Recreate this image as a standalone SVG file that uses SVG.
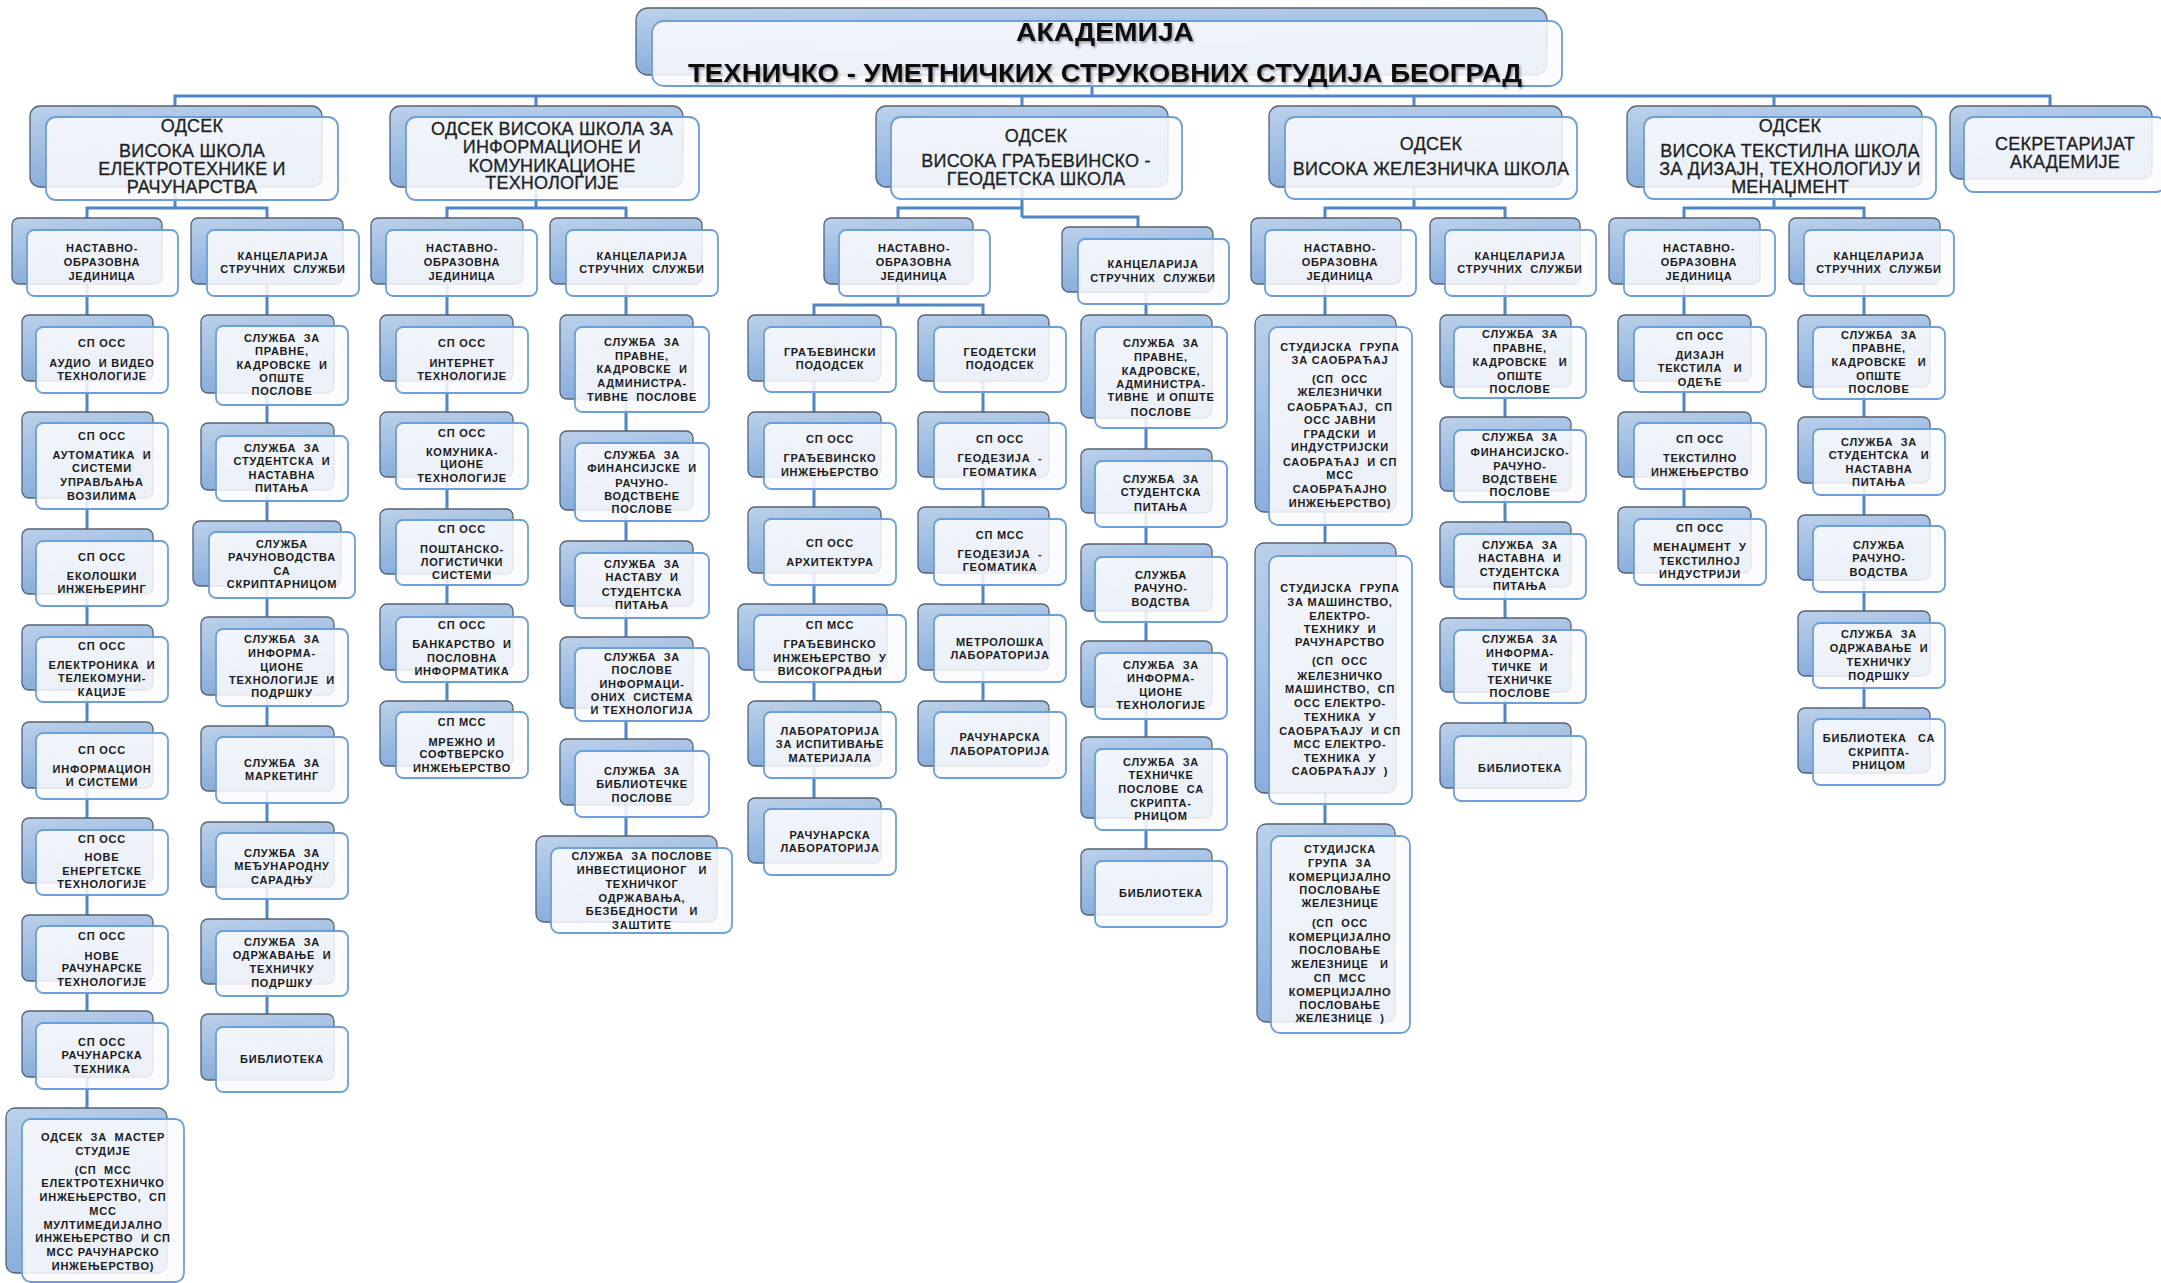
<svg xmlns="http://www.w3.org/2000/svg" width="2161" height="1283" viewBox="0 0 2161 1283">
<defs>
<linearGradient id="gb" x1="0" y1="0" x2="0.3" y2="1">
<stop offset="0" stop-color="#bcd1ea"/>
<stop offset="1" stop-color="#87abdb"/>
</linearGradient>
<filter id="sh" x="-5%" y="-30%" width="110%" height="160%">
<feDropShadow dx="1.5" dy="2" stdDeviation="1.2" flood-color="#000" flood-opacity="0.35"/>
</filter>
</defs>
<style>
.b{fill:url(#gb);stroke:#55626f;stroke-width:1.3}
.f{fill:#fbfcfe;fill-opacity:0.86;stroke:#6a9fd9;stroke-width:1.8}
.c{fill:none;stroke:#4f86c6;stroke-width:3}
.t{font-family:"Liberation Sans",Arial,sans-serif;font-size:11px;font-weight:bold;letter-spacing:0.75px;fill:#1b1b1b;text-anchor:middle;white-space:pre}
.h{font-family:"Liberation Sans",Arial,sans-serif;font-size:18px;letter-spacing:0.2px;fill:#1f1f1f;stroke:#1f1f1f;stroke-width:0.3;text-anchor:middle;white-space:pre}
.ti{font-family:"Liberation Sans",Arial,sans-serif;font-weight:bold;fill:#111;text-anchor:middle}
</style>
<rect width="2161" height="1283" fill="#ffffff"/>
<g id="connectors">
<path class="c" d="M1092,75 V96 M175,106 V96 H2050 V106 M536,96 V106 M1022,96 V106 M1414,96 V106 M1774,96 V106"/>
<path class="c" d="M175,187 V208 M87,218 V208 H267 V218"/>
<path class="c" d="M536,187 V208 M447,218 V208 H626 V218"/>
<path class="c" d="M1022,187 V217 M898,218 V208 H1022 M1022,217 H1138 V227"/>
<path class="c" d="M1414,187 V208 M1325,218 V208 H1505 V218"/>
<path class="c" d="M1774,187 V208 M1684,218 V208 H1864 V218"/>
<path class="c" d="M87,284 V1108 M267,284 V1014 M447,284 V701 M626,284 V836"/>
<path class="c" d="M898,284 V305 M814,315 V305 H983 V315 M814,381 V798 M983,381 V701 M1146,292 V849"/>
<path class="c" d="M1325,284 V824 M1505,284 V723 M1684,284 V507 M1864,284 V708"/>
</g>
<g id="n-akademija">
<rect class="b" x="636" y="8" width="911" height="67" rx="12"/>
<rect class="f" x="652" y="21" width="910" height="65" rx="12"/>
<text class="ti" x="1105" y="41" font-size="25" textLength="178" lengthAdjust="spacingAndGlyphs" filter="url(#sh)">АКАДЕМИЈА</text>
<text class="ti" x="1105" y="82" font-size="26" textLength="834" lengthAdjust="spacingAndGlyphs" filter="url(#sh)">ТЕХНИЧКО - УМЕТНИЧКИХ СТРУКОВНИХ СТУДИЈА БЕОГРАД</text>
</g>
<g id="n-d1">
<rect class="b" x="30" y="106" width="292" height="81" rx="10"/>
<rect class="f" x="46" y="117" width="292" height="83" rx="10"/>
<text class="h"><tspan x="192" y="132">ОДСЕК</tspan><tspan x="192" y="157">ВИСОКА ШКОЛА</tspan><tspan x="192" y="175">ЕЛЕКТРОТЕХНИКЕ И</tspan><tspan x="192" y="193">РАЧУНАРСТВА</tspan></text>
</g>
<g id="n-d2">
<rect class="b" x="390" y="106" width="293" height="81" rx="10"/>
<rect class="f" x="406" y="117" width="293" height="83" rx="10"/>
<text class="h"><tspan x="552" y="135">ОДСЕК ВИСОКА ШКОЛА ЗА</tspan><tspan x="552" y="153">ИНФОРМАЦИОНЕ И</tspan><tspan x="552" y="172">КОМУНИКАЦИОНЕ</tspan><tspan x="552" y="189">ТЕХНОЛОГИЈЕ</tspan></text>
</g>
<g id="n-d3">
<rect class="b" x="876" y="106" width="292" height="81" rx="10"/>
<rect class="f" x="891" y="117" width="291" height="82" rx="10"/>
<text class="h"><tspan x="1036" y="142">ОДСЕК</tspan><tspan x="1036" y="167">ВИСОКА ГРАЂЕВИНСКО -</tspan><tspan x="1036" y="185">ГЕОДЕТСКА ШКОЛА</tspan></text>
</g>
<g id="n-d4">
<rect class="b" x="1269" y="106" width="293" height="81" rx="10"/>
<rect class="f" x="1285" y="117" width="292" height="82" rx="10"/>
<text class="h"><tspan x="1431" y="150">ОДСЕК</tspan><tspan x="1431" y="175">ВИСОКА ЖЕЛЕЗНИЧКА ШКОЛА</tspan></text>
</g>
<g id="n-d5">
<rect class="b" x="1627" y="106" width="295" height="81" rx="10"/>
<rect class="f" x="1644" y="117" width="292" height="82" rx="10"/>
<text class="h"><tspan x="1790" y="132">ОДСЕК</tspan><tspan x="1790" y="157">ВИСОКА ТЕКСТИЛНА ШКОЛА</tspan><tspan x="1790" y="175">ЗА ДИЗАЈН, ТЕХНОЛОГИЈУ И</tspan><tspan x="1790" y="193">МЕНАЏМЕНТ</tspan></text>
</g>
<g id="n-d6">
<rect class="b" x="1950" y="106" width="202" height="73" rx="10"/>
<rect class="f" x="1964" y="117" width="202" height="75" rx="10"/>
<text class="h"><tspan x="2065" y="150">СЕКРЕТАРИЈАТ</tspan><tspan x="2065" y="168">АКАДЕМИЈЕ</tspan></text>
</g>

<g id="n-d1-nastavno">
<rect class="b" x="12" y="218" width="150" height="66" rx="7"/>
<rect class="f" x="27" y="230" width="151" height="66" rx="7"/>
<text class="t"><tspan x="102" y="252">НАСТАВНО-</tspan><tspan x="102" y="266">ОБРАЗОВНА</tspan><tspan x="102" y="280">ЈЕДИНИЦА</tspan></text>
</g>
<g id="n-d1-kanc">
<rect class="b" x="191" y="218" width="152" height="66" rx="7"/>
<rect class="f" x="207" y="230" width="152" height="66" rx="7"/>
<text class="t"><tspan x="283" y="260">КАНЦЕЛАРИЈА</tspan><tspan x="283" y="273">СТРУЧНИХ  СЛУЖБИ</tspan></text>
</g>
<g id="n-d2-nastavno">
<rect class="b" x="371" y="218" width="152" height="66" rx="7"/>
<rect class="f" x="386" y="230" width="151" height="66" rx="7"/>
<text class="t"><tspan x="462" y="252">НАСТАВНО-</tspan><tspan x="462" y="266">ОБРАЗОВНА</tspan><tspan x="462" y="280">ЈЕДИНИЦА</tspan></text>
</g>
<g id="n-d2-kanc">
<rect class="b" x="550" y="218" width="152" height="66" rx="7"/>
<rect class="f" x="566" y="230" width="152" height="66" rx="7"/>
<text class="t"><tspan x="642" y="260">КАНЦЕЛАРИЈА</tspan><tspan x="642" y="273">СТРУЧНИХ  СЛУЖБИ</tspan></text>
</g>
<g id="n-d3-nastavno">
<rect class="b" x="824" y="218" width="149" height="66" rx="7"/>
<rect class="f" x="839" y="230" width="151" height="66" rx="7"/>
<text class="t"><tspan x="914" y="252">НАСТАВНО-</tspan><tspan x="914" y="266">ОБРАЗОВНА</tspan><tspan x="914" y="280">ЈЕДИНИЦА</tspan></text>
</g>
<g id="n-d3-kanc">
<rect class="b" x="1062" y="227" width="151" height="65" rx="7"/>
<rect class="f" x="1078" y="239" width="151" height="65" rx="7"/>
<text class="t"><tspan x="1153" y="268">КАНЦЕЛАРИЈА</tspan><tspan x="1153" y="282">СТРУЧНИХ  СЛУЖБИ</tspan></text>
</g>
<g id="n-d4-nastavno">
<rect class="b" x="1251" y="218" width="150" height="66" rx="7"/>
<rect class="f" x="1265" y="230" width="151" height="66" rx="7"/>
<text class="t"><tspan x="1340" y="252">НАСТАВНО-</tspan><tspan x="1340" y="266">ОБРАЗОВНА</tspan><tspan x="1340" y="280">ЈЕДИНИЦА</tspan></text>
</g>
<g id="n-d4-kanc">
<rect class="b" x="1430" y="218" width="150" height="66" rx="7"/>
<rect class="f" x="1445" y="230" width="151" height="66" rx="7"/>
<text class="t"><tspan x="1520" y="260">КАНЦЕЛАРИЈА</tspan><tspan x="1520" y="273">СТРУЧНИХ  СЛУЖБИ</tspan></text>
</g>
<g id="n-d5-nastavno">
<rect class="b" x="1609" y="218" width="151" height="66" rx="7"/>
<rect class="f" x="1624" y="230" width="151" height="66" rx="7"/>
<text class="t"><tspan x="1699" y="252">НАСТАВНО-</tspan><tspan x="1699" y="266">ОБРАЗОВНА</tspan><tspan x="1699" y="280">ЈЕДИНИЦА</tspan></text>
</g>
<g id="n-d5-kanc">
<rect class="b" x="1789" y="218" width="151" height="66" rx="7"/>
<rect class="f" x="1804" y="230" width="150" height="66" rx="7"/>
<text class="t"><tspan x="1879" y="260">КАНЦЕЛАРИЈА</tspan><tspan x="1879" y="273">СТРУЧНИХ  СЛУЖБИ</tspan></text>
</g>

<!-- Column 1 -->
<g id="n-c1-1"><rect class="b" x="22" y="315" width="131" height="66" rx="7"/><rect class="f" x="36" y="327" width="132" height="66" rx="7"/>
<text class="t"><tspan x="102" y="347">СП ОСС</tspan><tspan x="102" y="367">АУДИО  И ВИДЕО</tspan><tspan x="102" y="380">ТЕХНОЛОГИЈЕ</tspan></text></g>
<g id="n-c1-2"><rect class="b" x="22" y="412" width="131" height="86" rx="7"/><rect class="f" x="36" y="423" width="132" height="86" rx="7"/>
<text class="t"><tspan x="102" y="440">СП ОСС</tspan><tspan x="102" y="459">АУТОМАТИКА  И</tspan><tspan x="102" y="472">СИСТЕМИ</tspan><tspan x="102" y="486">УПРАВЉАЊА</tspan><tspan x="102" y="500">ВОЗИЛИМА</tspan></text></g>
<g id="n-c1-3"><rect class="b" x="22" y="529" width="131" height="65" rx="7"/><rect class="f" x="36" y="541" width="132" height="65" rx="7"/>
<text class="t"><tspan x="102" y="561">СП ОСС</tspan><tspan x="102" y="580">ЕКОЛОШКИ</tspan><tspan x="102" y="593">ИНЖЕЊЕРИНГ</tspan></text></g>
<g id="n-c1-4"><rect class="b" x="22" y="625" width="131" height="65" rx="7"/><rect class="f" x="36" y="637" width="132" height="65" rx="7"/>
<text class="t"><tspan x="102" y="650">СП ОСС</tspan><tspan x="102" y="669">ЕЛЕКТРОНИКА  И</tspan><tspan x="102" y="682">ТЕЛЕКОМУНИ-</tspan><tspan x="102" y="696">КАЦИЈЕ</tspan></text></g>
<g id="n-c1-5"><rect class="b" x="22" y="722" width="131" height="66" rx="7"/><rect class="f" x="36" y="733" width="132" height="66" rx="7"/>
<text class="t"><tspan x="102" y="754">СП ОСС</tspan><tspan x="102" y="773">ИНФОРМАЦИОН</tspan><tspan x="102" y="786">И СИСТЕМИ</tspan></text></g>
<g id="n-c1-6"><rect class="b" x="22" y="818" width="131" height="65" rx="7"/><rect class="f" x="36" y="830" width="132" height="65" rx="7"/>
<text class="t"><tspan x="102" y="843">СП ОСС</tspan><tspan x="102" y="861">НОВЕ</tspan><tspan x="102" y="875">ЕНЕРГЕТСКЕ</tspan><tspan x="102" y="888">ТЕХНОЛОГИЈЕ</tspan></text></g>
<g id="n-c1-7"><rect class="b" x="22" y="915" width="131" height="66" rx="7"/><rect class="f" x="36" y="926" width="132" height="67" rx="7"/>
<text class="t"><tspan x="102" y="940">СП ОСС</tspan><tspan x="102" y="960">НОВЕ</tspan><tspan x="102" y="972">РАЧУНАРСКЕ</tspan><tspan x="102" y="986">ТЕХНОЛОГИЈЕ</tspan></text></g>
<g id="n-c1-8"><rect class="b" x="22" y="1011" width="131" height="66" rx="7"/><rect class="f" x="36" y="1023" width="132" height="66" rx="7"/>
<text class="t"><tspan x="102" y="1046">СП ОСС</tspan><tspan x="102" y="1059">РАЧУНАРСКА</tspan><tspan x="102" y="1073">ТЕХНИКА</tspan></text></g>
<g id="n-c1-9"><rect class="b" x="6" y="1108" width="161" height="165" rx="9"/><rect class="f" x="22" y="1119" width="162" height="163" rx="9"/>
<text class="t"><tspan x="103" y="1141">ОДСЕК  ЗА  МАСТЕР</tspan><tspan x="103" y="1155">СТУДИЈЕ</tspan><tspan x="103" y="1174">(СП  МСС</tspan><tspan x="103" y="1187">ЕЛЕКТРОТЕХНИЧКО</tspan><tspan x="103" y="1201">ИНЖЕЊЕРСТВО,  СП</tspan><tspan x="103" y="1215">МСС</tspan><tspan x="103" y="1229">МУЛТИМЕДИЈАЛНО</tspan><tspan x="103" y="1242">ИНЖЕЊЕРСТВО  И СП</tspan><tspan x="103" y="1256">МСС РАЧУНАРСКО</tspan><tspan x="103" y="1270">ИНЖЕЊЕРСТВО)</tspan></text></g>

<!-- Column 2 -->
<g id="n-c2-1"><rect class="b" x="201" y="315" width="133" height="78" rx="7"/><rect class="f" x="216" y="326" width="132" height="79" rx="7"/>
<text class="t"><tspan x="282" y="342">СЛУЖБА  ЗА</tspan><tspan x="282" y="355">ПРАВНЕ,</tspan><tspan x="282" y="369">КАДРОВСКЕ  И</tspan><tspan x="282" y="382">ОПШТЕ</tspan><tspan x="282" y="395">ПОСЛОВЕ</tspan></text></g>
<g id="n-c2-2"><rect class="b" x="201" y="423" width="133" height="67" rx="7"/><rect class="f" x="216" y="436" width="132" height="65" rx="7"/>
<text class="t"><tspan x="282" y="452">СЛУЖБА  ЗА</tspan><tspan x="282" y="465">СТУДЕНТСКА  И</tspan><tspan x="282" y="479">НАСТАВНА</tspan><tspan x="282" y="492">ПИТАЊА</tspan></text></g>
<g id="n-c2-3"><rect class="b" x="193" y="521" width="148" height="65" rx="7"/><rect class="f" x="209" y="532" width="146" height="66" rx="7"/>
<text class="t"><tspan x="282" y="548">СЛУЖБА</tspan><tspan x="282" y="561">РАЧУНОВОДСТВА</tspan><tspan x="282" y="575">СА</tspan><tspan x="282" y="588">СКРИПТАРНИЦОМ</tspan></text></g>
<g id="n-c2-4"><rect class="b" x="201" y="617" width="133" height="78" rx="7"/><rect class="f" x="216" y="629" width="132" height="77" rx="7"/>
<text class="t"><tspan x="282" y="643">СЛУЖБА  ЗА</tspan><tspan x="282" y="657">ИНФОРМА-</tspan><tspan x="282" y="671">ЦИОНЕ</tspan><tspan x="282" y="684">ТЕХНОЛОГИЈЕ  И</tspan><tspan x="282" y="697">ПОДРШКУ</tspan></text></g>
<g id="n-c2-5"><rect class="b" x="201" y="726" width="133" height="65" rx="7"/><rect class="f" x="216" y="737" width="132" height="66" rx="7"/>
<text class="t"><tspan x="282" y="767">СЛУЖБА  ЗА</tspan><tspan x="282" y="780">МАРКЕТИНГ</tspan></text></g>
<g id="n-c2-6"><rect class="b" x="201" y="822" width="133" height="65" rx="7"/><rect class="f" x="216" y="833" width="132" height="66" rx="7"/>
<text class="t"><tspan x="282" y="857">СЛУЖБА  ЗА</tspan><tspan x="282" y="870">МЕЂУНАРОДНУ</tspan><tspan x="282" y="884">САРАДЊУ</tspan></text></g>
<g id="n-c2-7"><rect class="b" x="201" y="919" width="133" height="65" rx="7"/><rect class="f" x="216" y="931" width="132" height="65" rx="7"/>
<text class="t"><tspan x="282" y="946">СЛУЖБА  ЗА</tspan><tspan x="282" y="959">ОДРЖАВАЊЕ  И</tspan><tspan x="282" y="973">ТЕХНИЧКУ</tspan><tspan x="282" y="987">ПОДРШКУ</tspan></text></g>
<g id="n-c2-8"><rect class="b" x="201" y="1014" width="133" height="66" rx="7"/><rect class="f" x="216" y="1027" width="132" height="65" rx="7"/>
<text class="t"><tspan x="282" y="1063">БИБЛИОТЕКА</tspan></text></g>

<!-- Column 3 -->
<g id="n-c3-1"><rect class="b" x="380" y="315" width="133" height="66" rx="7"/><rect class="f" x="396" y="327" width="132" height="66" rx="7"/>
<text class="t"><tspan x="462" y="347">СП ОСС</tspan><tspan x="462" y="367">ИНТЕРНЕТ</tspan><tspan x="462" y="380">ТЕХНОЛОГИЈЕ</tspan></text></g>
<g id="n-c3-2"><rect class="b" x="380" y="412" width="133" height="65" rx="7"/><rect class="f" x="396" y="423" width="132" height="66" rx="7"/>
<text class="t"><tspan x="462" y="437">СП ОСС</tspan><tspan x="462" y="456">КОМУНИКА-</tspan><tspan x="462" y="468">ЦИОНЕ</tspan><tspan x="462" y="482">ТЕХНОЛОГИЈЕ</tspan></text></g>
<g id="n-c3-3"><rect class="b" x="380" y="509" width="133" height="65" rx="7"/><rect class="f" x="396" y="520" width="132" height="65" rx="7"/>
<text class="t"><tspan x="462" y="533">СП ОСС</tspan><tspan x="462" y="553">ПОШТАНСКО-</tspan><tspan x="462" y="566">ЛОГИСТИЧКИ</tspan><tspan x="462" y="579">СИСТЕМИ</tspan></text></g>
<g id="n-c3-4"><rect class="b" x="380" y="604" width="133" height="66" rx="7"/><rect class="f" x="396" y="617" width="132" height="65" rx="7"/>
<text class="t"><tspan x="462" y="629">СП ОСС</tspan><tspan x="462" y="648">БАНКАРСТВО  И</tspan><tspan x="462" y="662">ПОСЛОВНА</tspan><tspan x="462" y="675">ИНФОРМАТИКА</tspan></text></g>
<g id="n-c3-5"><rect class="b" x="380" y="701" width="133" height="65" rx="7"/><rect class="f" x="396" y="712" width="132" height="66" rx="7"/>
<text class="t"><tspan x="462" y="726">СП МСС</tspan><tspan x="462" y="746">МРЕЖНО И</tspan><tspan x="462" y="758">СОФТВЕРСКО</tspan><tspan x="462" y="772">ИНЖЕЊЕРСТВО</tspan></text></g>

<!-- Column 4 -->
<g id="n-c4-1"><rect class="b" x="560" y="315" width="133" height="84" rx="7"/><rect class="f" x="575" y="327" width="134" height="85" rx="7"/>
<text class="t"><tspan x="642" y="346">СЛУЖБА  ЗА</tspan><tspan x="642" y="360">ПРАВНЕ,</tspan><tspan x="642" y="373">КАДРОВСКЕ  И</tspan><tspan x="642" y="387">АДМИНИСТРА-</tspan><tspan x="642" y="401">ТИВНЕ  ПОСЛОВЕ</tspan></text></g>
<g id="n-c4-2"><rect class="b" x="560" y="431" width="133" height="79" rx="7"/><rect class="f" x="575" y="443" width="134" height="78" rx="7"/>
<text class="t"><tspan x="642" y="459">СЛУЖБА  ЗА</tspan><tspan x="642" y="472">ФИНАНСИЈСКЕ  И</tspan><tspan x="642" y="487">РАЧУНО-</tspan><tspan x="642" y="500">ВОДСТВЕНЕ</tspan><tspan x="642" y="513">ПОСЛОВЕ</tspan></text></g>
<g id="n-c4-3"><rect class="b" x="560" y="541" width="133" height="65" rx="7"/><rect class="f" x="575" y="553" width="134" height="65" rx="7"/>
<text class="t"><tspan x="642" y="568">СЛУЖБА  ЗА</tspan><tspan x="642" y="581">НАСТАВУ  И</tspan><tspan x="642" y="596">СТУДЕНТСКА</tspan><tspan x="642" y="609">ПИТАЊА</tspan></text></g>
<g id="n-c4-4"><rect class="b" x="560" y="637" width="133" height="71" rx="7"/><rect class="f" x="575" y="648" width="134" height="73" rx="7"/>
<text class="t"><tspan x="642" y="661">СЛУЖБА  ЗА</tspan><tspan x="642" y="674">ПОСЛОВЕ</tspan><tspan x="642" y="688">ИНФОРМАЦИ-</tspan><tspan x="642" y="701">ОНИХ  СИСТЕМА</tspan><tspan x="642" y="714">И ТЕХНОЛОГИЈА</tspan></text></g>
<g id="n-c4-5"><rect class="b" x="560" y="739" width="133" height="66" rx="7"/><rect class="f" x="575" y="751" width="134" height="66" rx="7"/>
<text class="t"><tspan x="642" y="775">СЛУЖБА  ЗА</tspan><tspan x="642" y="788">БИБЛИОТЕЧКЕ</tspan><tspan x="642" y="802">ПОСЛОВЕ</tspan></text></g>
<g id="n-c4-6"><rect class="b" x="536" y="836" width="181" height="86" rx="8"/><rect class="f" x="551" y="848" width="181" height="85" rx="8"/>
<text class="t"><tspan x="642" y="860">СЛУЖБА  ЗА ПОСЛОВЕ</tspan><tspan x="642" y="874">ИНВЕСТИЦИОНОГ   И</tspan><tspan x="642" y="888">ТЕХНИЧКОГ</tspan><tspan x="642" y="902">ОДРЖАВАЊА,</tspan><tspan x="642" y="915">БЕЗБЕДНОСТИ   И</tspan><tspan x="642" y="929">ЗАШТИТЕ</tspan></text></g>

<!-- Pododseci -->
<g id="n-grad-pod"><rect class="b" x="748" y="315" width="133" height="66" rx="7"/><rect class="f" x="764" y="327" width="132" height="65" rx="7"/>
<text class="t"><tspan x="830" y="356">ГРАЂЕВИНСКИ</tspan><tspan x="830" y="369">ПОДОДСЕК</tspan></text></g>
<g id="n-geod-pod"><rect class="b" x="918" y="315" width="131" height="66" rx="7"/><rect class="f" x="934" y="327" width="132" height="65" rx="7"/>
<text class="t"><tspan x="1000" y="356">ГЕОДЕТСКИ</tspan><tspan x="1000" y="369">ПОДОДСЕК</tspan></text></g>

<!-- Column 5 -->
<g id="n-c5-1"><rect class="b" x="748" y="412" width="133" height="65" rx="7"/><rect class="f" x="764" y="423" width="132" height="66" rx="7"/>
<text class="t"><tspan x="830" y="443">СП ОСС</tspan><tspan x="830" y="462">ГРАЂЕВИНСКО</tspan><tspan x="830" y="476">ИНЖЕЊЕРСТВО</tspan></text></g>
<g id="n-c5-2"><rect class="b" x="748" y="507" width="133" height="66" rx="7"/><rect class="f" x="764" y="519" width="132" height="66" rx="7"/>
<text class="t"><tspan x="830" y="547">СП ОСС</tspan><tspan x="830" y="566">АРХИТЕКТУРА</tspan></text></g>
<g id="n-c5-3"><rect class="b" x="738" y="604" width="149" height="66" rx="7"/><rect class="f" x="754" y="615" width="152" height="67" rx="7"/>
<text class="t"><tspan x="830" y="629">СП МСС</tspan><tspan x="830" y="648">ГРАЂЕВИНСКО</tspan><tspan x="830" y="662">ИНЖЕЊЕРСТВО  У</tspan><tspan x="830" y="675">ВИСОКОГРАДЊИ</tspan></text></g>
<g id="n-c5-4"><rect class="b" x="748" y="701" width="133" height="65" rx="7"/><rect class="f" x="764" y="712" width="132" height="66" rx="7"/>
<text class="t"><tspan x="830" y="735">ЛАБОРАТОРИЈА</tspan><tspan x="830" y="748">ЗА ИСПИТИВАЊЕ</tspan><tspan x="830" y="762">МАТЕРИЈАЛА</tspan></text></g>
<g id="n-c5-5"><rect class="b" x="748" y="798" width="133" height="65" rx="7"/><rect class="f" x="764" y="809" width="132" height="66" rx="7"/>
<text class="t"><tspan x="830" y="839">РАЧУНАРСКА</tspan><tspan x="830" y="852">ЛАБОРАТОРИЈА</tspan></text></g>

<!-- Column 6 -->
<g id="n-c6-1"><rect class="b" x="918" y="412" width="131" height="65" rx="7"/><rect class="f" x="934" y="423" width="132" height="66" rx="7"/>
<text class="t"><tspan x="1000" y="443">СП ОСС</tspan><tspan x="1000" y="462">ГЕОДЕЗИЈА  -</tspan><tspan x="1000" y="476">ГЕОМАТИКА</tspan></text></g>
<g id="n-c6-2"><rect class="b" x="918" y="507" width="131" height="66" rx="7"/><rect class="f" x="934" y="519" width="132" height="66" rx="7"/>
<text class="t"><tspan x="1000" y="539">СП МСС</tspan><tspan x="1000" y="558">ГЕОДЕЗИЈА  -</tspan><tspan x="1000" y="571">ГЕОМАТИКА</tspan></text></g>
<g id="n-c6-3"><rect class="b" x="918" y="604" width="131" height="66" rx="7"/><rect class="f" x="934" y="615" width="132" height="67" rx="7"/>
<text class="t"><tspan x="1000" y="646">МЕТРОЛОШКА</tspan><tspan x="1000" y="659">ЛАБОРАТОРИЈА</tspan></text></g>
<g id="n-c6-4"><rect class="b" x="918" y="701" width="131" height="65" rx="7"/><rect class="f" x="934" y="712" width="132" height="66" rx="7"/>
<text class="t"><tspan x="1000" y="741">РАЧУНАРСКА</tspan><tspan x="1000" y="755">ЛАБОРАТОРИЈА</tspan></text></g>

<!-- Column 7 -->
<g id="n-c7-1"><rect class="b" x="1081" y="315" width="131" height="103" rx="8"/><rect class="f" x="1095" y="327" width="132" height="101" rx="8"/>
<text class="t"><tspan x="1161" y="347">СЛУЖБА  ЗА</tspan><tspan x="1161" y="361">ПРАВНЕ,</tspan><tspan x="1161" y="375">КАДРОВСКЕ,</tspan><tspan x="1161" y="388">АДМИНИСТРА-</tspan><tspan x="1161" y="401">ТИВНЕ  И ОПШТЕ</tspan><tspan x="1161" y="416">ПОСЛОВЕ</tspan></text></g>
<g id="n-c7-2"><rect class="b" x="1081" y="449" width="131" height="64" rx="7"/><rect class="f" x="1095" y="461" width="132" height="66" rx="7"/>
<text class="t"><tspan x="1161" y="483">СЛУЖБА  ЗА</tspan><tspan x="1161" y="496">СТУДЕНТСКА</tspan><tspan x="1161" y="511">ПИТАЊА</tspan></text></g>
<g id="n-c7-3"><rect class="b" x="1081" y="544" width="131" height="67" rx="7"/><rect class="f" x="1095" y="557" width="132" height="65" rx="7"/>
<text class="t"><tspan x="1161" y="579">СЛУЖБА</tspan><tspan x="1161" y="592">РАЧУНО-</tspan><tspan x="1161" y="606">ВОДСТВА</tspan></text></g>
<g id="n-c7-4"><rect class="b" x="1081" y="641" width="131" height="66" rx="7"/><rect class="f" x="1095" y="653" width="132" height="66" rx="7"/>
<text class="t"><tspan x="1161" y="669">СЛУЖБА  ЗА</tspan><tspan x="1161" y="682">ИНФОРМА-</tspan><tspan x="1161" y="696">ЦИОНЕ</tspan><tspan x="1161" y="709">ТЕХНОЛОГИЈЕ</tspan></text></g>
<g id="n-c7-5"><rect class="b" x="1081" y="737" width="131" height="81" rx="7"/><rect class="f" x="1095" y="749" width="132" height="81" rx="7"/>
<text class="t"><tspan x="1161" y="766">СЛУЖБА  ЗА</tspan><tspan x="1161" y="779">ТЕХНИЧКЕ</tspan><tspan x="1161" y="793">ПОСЛОВЕ  СА</tspan><tspan x="1161" y="807">СКРИПТА-</tspan><tspan x="1161" y="820">РНИЦОМ</tspan></text></g>
<g id="n-c7-6"><rect class="b" x="1081" y="849" width="131" height="66" rx="7"/><rect class="f" x="1095" y="861" width="132" height="66" rx="7"/>
<text class="t"><tspan x="1161" y="897">БИБЛИОТЕКА</tspan></text></g>

<!-- Column 8 -->
<g id="n-c8-1"><rect class="b" x="1255" y="315" width="141" height="197" rx="9"/><rect class="f" x="1269" y="327" width="143" height="198" rx="9"/>
<text class="t"><tspan x="1340" y="351">СТУДИЈСКА  ГРУПА</tspan><tspan x="1340" y="364">ЗА САОБРАЋАЈ</tspan><tspan x="1340" y="383">(СП  ОСС</tspan><tspan x="1340" y="396">ЖЕЛЕЗНИЧКИ</tspan><tspan x="1340" y="411">САОБРАЋАЈ,  СП</tspan><tspan x="1340" y="424">ОСС ЈАВНИ</tspan><tspan x="1340" y="438">ГРАДСКИ  И</tspan><tspan x="1340" y="451">ИНДУСТРИЈСКИ</tspan><tspan x="1340" y="466">САОБРАЋАЈ  И СП</tspan><tspan x="1340" y="479">МСС</tspan><tspan x="1340" y="493">САОБРАЋАЈНО</tspan><tspan x="1340" y="507">ИНЖЕЊЕРСТВО)</tspan></text></g>
<g id="n-c8-2"><rect class="b" x="1255" y="543" width="141" height="250" rx="9"/><rect class="f" x="1269" y="556" width="143" height="248" rx="9"/>
<text class="t"><tspan x="1340" y="592">СТУДИЈСКА  ГРУПА</tspan><tspan x="1340" y="606">ЗА МАШИНСТВО,</tspan><tspan x="1340" y="620">ЕЛЕКТРО-</tspan><tspan x="1340" y="633">ТЕХНИКУ  И</tspan><tspan x="1340" y="646">РАЧУНАРСТВО</tspan><tspan x="1340" y="665">(СП  ОСС</tspan><tspan x="1340" y="680">ЖЕЛЕЗНИЧКО</tspan><tspan x="1340" y="693">МАШИНСТВО,  СП</tspan><tspan x="1340" y="707">ОСС ЕЛЕКТРО-</tspan><tspan x="1340" y="721">ТЕХНИКА  У</tspan><tspan x="1340" y="735">САОБРАЋАЈУ  И СП</tspan><tspan x="1340" y="748">МСС ЕЛЕКТРО-</tspan><tspan x="1340" y="762">ТЕХНИКА  У</tspan><tspan x="1340" y="775">САОБРАЋАЈУ  )</tspan></text></g>
<g id="n-c8-3"><rect class="b" x="1257" y="824" width="138" height="198" rx="9"/><rect class="f" x="1271" y="836" width="139" height="197" rx="9"/>
<text class="t"><tspan x="1340" y="853">СТУДИЈСКА</tspan><tspan x="1340" y="867">ГРУПА  ЗА</tspan><tspan x="1340" y="881">КОМЕРЦИЈАЛНО</tspan><tspan x="1340" y="894">ПОСЛОВАЊЕ</tspan><tspan x="1340" y="907">ЖЕЛЕЗНИЦЕ</tspan><tspan x="1340" y="927">(СП  ОСС</tspan><tspan x="1340" y="941">КОМЕРЦИЈАЛНО</tspan><tspan x="1340" y="954">ПОСЛОВАЊЕ</tspan><tspan x="1340" y="968">ЖЕЛЕЗНИЦЕ   И</tspan><tspan x="1340" y="982">СП  МСС</tspan><tspan x="1340" y="996">КОМЕРЦИЈАЛНО</tspan><tspan x="1340" y="1009">ПОСЛОВАЊЕ</tspan><tspan x="1340" y="1022">ЖЕЛЕЗНИЦЕ  )</tspan></text></g>

<!-- Column 9 -->
<g id="n-c9-1"><rect class="b" x="1440" y="315" width="131" height="72" rx="7"/><rect class="f" x="1454" y="327" width="132" height="71" rx="7"/>
<text class="t"><tspan x="1520" y="338">СЛУЖБА  ЗА</tspan><tspan x="1520" y="352">ПРАВНЕ,</tspan><tspan x="1520" y="366">КАДРОВСКЕ   И</tspan><tspan x="1520" y="380">ОПШТЕ</tspan><tspan x="1520" y="393">ПОСЛОВЕ</tspan></text></g>
<g id="n-c9-2"><rect class="b" x="1440" y="417" width="131" height="74" rx="7"/><rect class="f" x="1454" y="430" width="132" height="72" rx="7"/>
<text class="t"><tspan x="1520" y="441">СЛУЖБА  ЗА</tspan><tspan x="1520" y="456">ФИНАНСИЈСКО-</tspan><tspan x="1520" y="470">РАЧУНО-</tspan><tspan x="1520" y="483">ВОДСТВЕНЕ</tspan><tspan x="1520" y="496">ПОСЛОВЕ</tspan></text></g>
<g id="n-c9-3"><rect class="b" x="1440" y="522" width="131" height="65" rx="7"/><rect class="f" x="1454" y="534" width="132" height="65" rx="7"/>
<text class="t"><tspan x="1520" y="549">СЛУЖБА  ЗА</tspan><tspan x="1520" y="562">НАСТАВНА  И</tspan><tspan x="1520" y="576">СТУДЕНТСКА</tspan><tspan x="1520" y="590">ПИТАЊА</tspan></text></g>
<g id="n-c9-4"><rect class="b" x="1440" y="618" width="131" height="74" rx="7"/><rect class="f" x="1454" y="630" width="132" height="73" rx="7"/>
<text class="t"><tspan x="1520" y="643">СЛУЖБА  ЗА</tspan><tspan x="1520" y="657">ИНФОРМА-</tspan><tspan x="1520" y="671">ТИЧКЕ  И</tspan><tspan x="1520" y="684">ТЕХНИЧКЕ</tspan><tspan x="1520" y="697">ПОСЛОВЕ</tspan></text></g>
<g id="n-c9-5"><rect class="b" x="1440" y="723" width="131" height="65" rx="7"/><rect class="f" x="1454" y="736" width="132" height="65" rx="7"/>
<text class="t"><tspan x="1520" y="772">БИБЛИОТЕКА</tspan></text></g>

<!-- Column 10 -->
<g id="n-c10-1"><rect class="b" x="1618" y="315" width="133" height="66" rx="7"/><rect class="f" x="1634" y="327" width="132" height="65" rx="7"/>
<text class="t"><tspan x="1700" y="340">СП ОСС</tspan><tspan x="1700" y="359">ДИЗАЈН</tspan><tspan x="1700" y="372">ТЕКСТИЛА   И</tspan><tspan x="1700" y="386">ОДЕЋЕ</tspan></text></g>
<g id="n-c10-2"><rect class="b" x="1618" y="412" width="133" height="65" rx="7"/><rect class="f" x="1634" y="423" width="132" height="66" rx="7"/>
<text class="t"><tspan x="1700" y="443">СП ОСС</tspan><tspan x="1700" y="462">ТЕКСТИЛНО</tspan><tspan x="1700" y="476">ИНЖЕЊЕРСТВО</tspan></text></g>
<g id="n-c10-3"><rect class="b" x="1618" y="507" width="133" height="66" rx="7"/><rect class="f" x="1634" y="519" width="132" height="66" rx="7"/>
<text class="t"><tspan x="1700" y="532">СП ОСС</tspan><tspan x="1700" y="551">МЕНАЏМЕНТ  У</tspan><tspan x="1700" y="565">ТЕКСТИЛНОЈ</tspan><tspan x="1700" y="578">ИНДУСТРИЈИ</tspan></text></g>

<!-- Column 11 -->
<g id="n-c11-1"><rect class="b" x="1798" y="315" width="132" height="72" rx="7"/><rect class="f" x="1813" y="327" width="132" height="72" rx="7"/>
<text class="t"><tspan x="1879" y="339">СЛУЖБА  ЗА</tspan><tspan x="1879" y="352">ПРАВНЕ,</tspan><tspan x="1879" y="366">КАДРОВСКЕ   И</tspan><tspan x="1879" y="380">ОПШТЕ</tspan><tspan x="1879" y="393">ПОСЛОВЕ</tspan></text></g>
<g id="n-c11-2"><rect class="b" x="1798" y="417" width="132" height="66" rx="7"/><rect class="f" x="1813" y="429" width="132" height="66" rx="7"/>
<text class="t"><tspan x="1879" y="446">СЛУЖБА  ЗА</tspan><tspan x="1879" y="459">СТУДЕНТСКА   И</tspan><tspan x="1879" y="473">НАСТАВНА</tspan><tspan x="1879" y="486">ПИТАЊА</tspan></text></g>
<g id="n-c11-3"><rect class="b" x="1798" y="515" width="132" height="65" rx="7"/><rect class="f" x="1813" y="526" width="132" height="66" rx="7"/>
<text class="t"><tspan x="1879" y="549">СЛУЖБА</tspan><tspan x="1879" y="562">РАЧУНО-</tspan><tspan x="1879" y="576">ВОДСТВА</tspan></text></g>
<g id="n-c11-4"><rect class="b" x="1798" y="611" width="132" height="65" rx="7"/><rect class="f" x="1813" y="623" width="132" height="65" rx="7"/>
<text class="t"><tspan x="1879" y="638">СЛУЖБА  ЗА</tspan><tspan x="1879" y="652">ОДРЖАВАЊЕ  И</tspan><tspan x="1879" y="666">ТЕХНИЧКУ</tspan><tspan x="1879" y="680">ПОДРШКУ</tspan></text></g>
<g id="n-c11-5"><rect class="b" x="1798" y="708" width="132" height="65" rx="7"/><rect class="f" x="1813" y="719" width="132" height="66" rx="7"/>
<text class="t"><tspan x="1879" y="742">БИБЛИОТЕКА   СА</tspan><tspan x="1879" y="756">СКРИПТА-</tspan><tspan x="1879" y="769">РНИЦОМ</tspan></text></g>
</svg>
